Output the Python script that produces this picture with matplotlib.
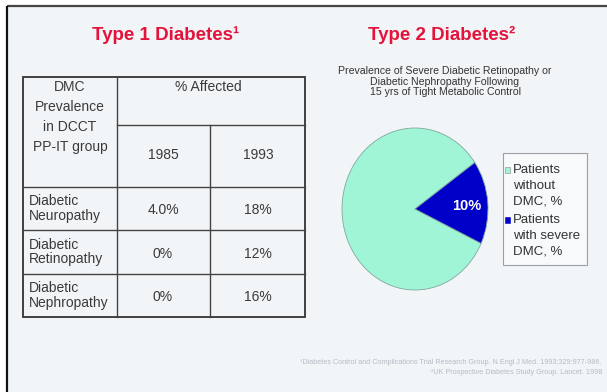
import matplotlib
matplotlib.use('Agg')
import matplotlib.pyplot as plt
from matplotlib.patches import Rectangle
import numpy as np

plt.rcParams['font.family'] = ['Liberation Sans', 'DejaVu Sans']

# table data (Type 1)
header_col = ['DMC', 'Prevalence', 'in DCCT', 'PP-IT group']
header_span = '% Affected'
years = ['1985', '1993']
row_labels = [['Diabetic', 'Neuropathy'], ['Diabetic', 'Retinopathy'], ['Diabetic', 'Nephropathy']]
vals_1985 = ['4.0%', '0%', '0%']
vals_1993 = ['18%', '12%', '16%']

# pie data (Type 2)
pie_labels = [['Patients', 'without', 'DMC, %'], ['Patients', 'with severe', 'DMC, %']]
pie_values = [83.3, 16.7]
pie_colors = ['#9ff5d5', '#0000c8']
pie_text = '10%'

subtitle = ['Prevalence of Severe Diabetic Retinopathy or',
            'Diabetic Nephropathy Following',
            '15 yrs of Tight Metabolic Control']
footnotes = ['\u00b9Diabetes Control and Complications Trial Research Group. N Engl J Med. 1993;329:977-986.',
             '\u00b2UK Prospective Diabetes Study Group. Lancet. 1998']

RED = '#e3143c'
TXT = '#3a3a3a'

fig = plt.figure(figsize=(6.07, 3.92), dpi=100)
fig.patch.set_facecolor('white')

# overlay axes in pixel coordinates
ax = fig.add_axes([0, 0, 1, 1])
ax.set_xlim(0, 607)
ax.set_ylim(392, 0)
ax.axis('off')

ax.add_patch(Rectangle((7, 6), 600, 386, fc='#f2f5f8', ec='none'))
ax.plot([7, 607], [6, 6], color='#444444', lw=1.6, solid_capstyle='butt')
ax.plot([7, 7], [6, 392], color='#111111', lw=1.6, solid_capstyle='butt')

# titles
ax.text(166, 35, 'Type 1 Diabetes\u00b9', ha='center', va='center', fontsize=13.5,
        fontweight='bold', color=RED)
ax.text(442, 35, 'Type 2 Diabetes\u00b2', ha='center', va='center', fontsize=13.5,
        fontweight='bold', color=RED)

# table grid
xs = [23, 117, 210, 305]
ys = [77, 125, 187, 230, 274, 317]
ax.add_patch(Rectangle((xs[0], ys[0]), xs[3] - xs[0], ys[-1] - ys[0], fill=False,
                       ec='#333333', lw=1.3))
ax.plot([xs[1], xs[1]], [ys[0], ys[-1]], color='#444444', lw=1)
ax.plot([xs[2], xs[2]], [ys[1], ys[-1]], color='#444444', lw=1)
ax.plot([xs[1], xs[3]], [ys[1], ys[1]], color='#444444', lw=1)
for y in ys[2:5]:
    ax.plot([xs[0], xs[3]], [y, y], color='#444444', lw=1)

tfs = 10
for i, line in enumerate(header_col):
    ax.text(70, 87 + 20 * i, line, ha='center', va='center', fontsize=tfs, color=TXT)
ax.text(208, 87, header_span, ha='center', va='center', fontsize=tfs, color=TXT)
ax.text(163, 155, years[0], ha='center', va='center', fontsize=tfs, color=TXT)
ax.text(258, 155, years[1], ha='center', va='center', fontsize=tfs, color=TXT)

for r in range(3):
    yc = (ys[r + 2] + ys[r + 3]) / 2
    ax.text(29, yc - 7.5, row_labels[r][0], ha='left', va='center', fontsize=tfs, color=TXT)
    ax.text(29, yc + 7.5, row_labels[r][1], ha='left', va='center', fontsize=tfs, color=TXT)
    ax.text(163, yc + 1.5, vals_1985[r], ha='center', va='center', fontsize=tfs, color=TXT)
    ax.text(258, yc + 1.5, vals_1993[r], ha='center', va='center', fontsize=tfs, color=TXT)

# subtitle of pie
for i, line in enumerate(subtitle):
    ax.text(445, 71 + 10.5 * i, line, ha='center', va='center', fontsize=7.6, color='#333333')

# pie
pax = fig.add_axes([342 / 607, (392 - 290) / 392, 146 / 607, 162 / 392])
wedges, _ = pax.pie(pie_values, colors=pie_colors, startangle=35, counterclock=True,
                    wedgeprops=dict(ec='#7fa8a0', lw=0.6))
for w in wedges:
    w.set_clip_on(False)
pax.set_aspect('auto')
pax.set_xlim(-1, 1)
pax.set_ylim(-1, 1)
pax.axis('off')
mid = np.deg2rad((wedges[1].theta1 + wedges[1].theta2) / 2)
pax.text(0.71 * np.cos(mid), 0.71 * np.sin(mid) - 0.02, pie_text, ha='center', va='center',
         fontsize=10.5, fontweight='bold', color='white')

# legend box
ax.add_patch(Rectangle((503, 153), 84, 112, fc='#f7f9fb', ec='#9aa0a6', lw=0.8))
leg_y = [170, 220]
for k in range(2):
    ax.add_patch(Rectangle((505, leg_y[k] - 3), 5, 6, fc=pie_colors[k],
                           ec='#888888' if k == 0 else pie_colors[k], lw=0.4))
    for j, line in enumerate(pie_labels[k]):
        ax.text(513, leg_y[k] + 15.5 * j, line, ha='left', va='center', fontsize=9.5, color='#333333')

# footnotes
ax.text(602, 363, footnotes[0], ha='right', va='center', fontsize=5.2, color='#b4bcc4')
ax.text(602, 372, footnotes[1], ha='right', va='center', fontsize=5.2, color='#b4bcc4')

fig.savefig('out.png', dpi=100, facecolor=fig.get_facecolor())
